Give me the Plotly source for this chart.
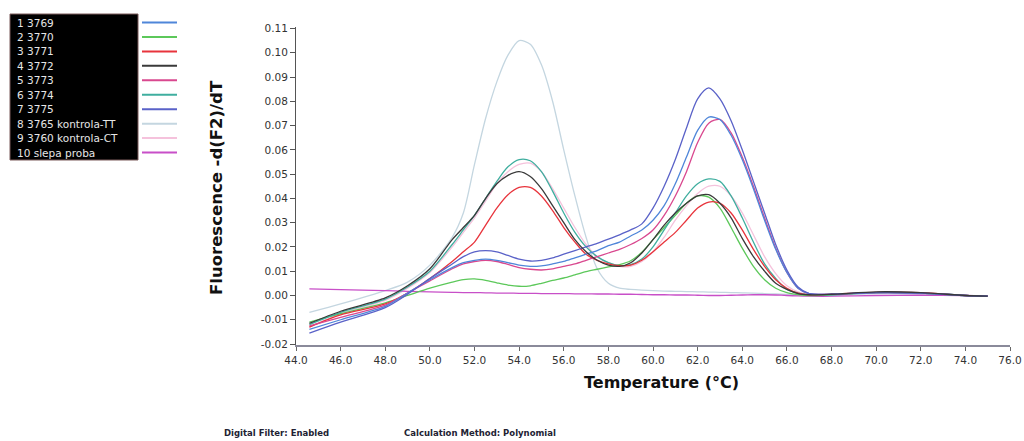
import plotly.graph_objects as go

# ---------------- data ----------------
temperature = [44.6, 46, 48, 49, 50, 51, 51.5, 52, 52.5, 53, 53.5, 54, 54.5, 55, 55.5, 56, 56.5, 57,
               57.5, 58, 58.5, 59, 59.5, 60, 60.5, 61, 61.5, 62, 62.5, 63, 63.5, 64, 64.5, 65, 65.5,
               66, 66.5, 67, 68, 70, 72, 74, 75]

s1_3769 = [-0.014, -0.010, -0.0045, 0.001, 0.0065, 0.0115, 0.0135, 0.0145, 0.015, 0.0145, 0.0135, 0.0125,
           0.012, 0.0122, 0.013, 0.014, 0.0155, 0.017, 0.0185, 0.0205, 0.022, 0.0245, 0.027, 0.031, 0.037,
           0.046, 0.057, 0.068, 0.0735, 0.0725, 0.066, 0.056, 0.044, 0.031, 0.019, 0.0095, 0.003, 0.0008,
           0.0005, 0.0012, 0.001, 0.0, -0.0003]
s2_3770 = [-0.011, -0.0075, -0.003, 0.0, 0.003, 0.0055, 0.0065, 0.0068, 0.0062, 0.0052, 0.0043, 0.0038,
           0.004, 0.005, 0.0062, 0.0072, 0.0085, 0.0098, 0.0108, 0.0118, 0.0127, 0.0143, 0.0178, 0.023,
           0.028, 0.033, 0.038, 0.041, 0.0405, 0.036, 0.028, 0.0195, 0.012, 0.0065, 0.003, 0.0012, 0.0004,
           0.0, 0.0003, 0.0012, 0.001, 0.0, -0.0003]
s3_3771 = [-0.013, -0.008, -0.0035, 0.001, 0.007, 0.014, 0.018, 0.022, 0.029, 0.036, 0.0415, 0.0445,
           0.0445, 0.041, 0.035, 0.028, 0.022, 0.017, 0.0145, 0.013, 0.0123, 0.0125, 0.0145, 0.018, 0.022,
           0.026, 0.031, 0.036, 0.0385, 0.038, 0.034, 0.027, 0.019, 0.012, 0.0065, 0.003, 0.001, 0.0003,
           0.0005, 0.0013, 0.0012, 0.0, -0.0003]
s4_3772 = [-0.0115, -0.0065, -0.001, 0.004, 0.011, 0.023, 0.028, 0.033, 0.040, 0.046, 0.0495, 0.051,
           0.049, 0.044, 0.037, 0.030, 0.023, 0.018, 0.0145, 0.0125, 0.012, 0.0135, 0.0175, 0.023, 0.029,
           0.034, 0.038, 0.041, 0.0415, 0.038, 0.032, 0.0235, 0.016, 0.010, 0.005, 0.0025, 0.0008, 0.0003,
           0.0005, 0.0015, 0.0012, 0.0, -0.0003]
s5_3773 = [-0.0125, -0.009, -0.004, 0.001, 0.006, 0.011, 0.013, 0.014, 0.0145, 0.014, 0.0128, 0.0115,
           0.0108, 0.0105, 0.011, 0.012, 0.013, 0.0145, 0.016, 0.0175, 0.019, 0.021, 0.0235, 0.027, 0.033,
           0.041, 0.051, 0.063, 0.071, 0.0725, 0.067, 0.057, 0.045, 0.032, 0.0195, 0.0095, 0.003, 0.0008,
           0.0005, 0.0012, 0.001, 0.0, -0.0003]
s6_3774 = [-0.012, -0.007, -0.0015, 0.0035, 0.010, 0.021, 0.027, 0.033, 0.040, 0.047, 0.053, 0.056,
           0.0555, 0.051, 0.043, 0.034, 0.026, 0.020, 0.016, 0.0135, 0.0123, 0.0127, 0.015, 0.020, 0.027,
           0.034, 0.041, 0.046, 0.048, 0.047, 0.041, 0.032, 0.022, 0.013, 0.007, 0.0025, 0.001, 0.0003,
           0.0003, 0.0012, 0.001, 0.0, -0.0003]
s7_3775 = [-0.0155, -0.011, -0.005, 0.0005, 0.007, 0.013, 0.016, 0.018, 0.0185, 0.018, 0.0165, 0.015,
           0.0142, 0.0145, 0.0155, 0.017, 0.0185, 0.020, 0.0215, 0.0232, 0.025, 0.027, 0.0295, 0.036, 0.045,
           0.056, 0.069, 0.081, 0.0855, 0.081, 0.072, 0.060, 0.047, 0.034, 0.021, 0.0105, 0.0035, 0.0008,
           0.0005, 0.0012, 0.001, 0.0, -0.0003]
s8_kontrola_tt = [-0.007, -0.0035, 0.002, 0.0055, 0.0125, 0.024, 0.034, 0.054, 0.073, 0.088, 0.099, 0.105,
                  0.1035, 0.095, 0.080, 0.060, 0.041, 0.024, 0.011, 0.005, 0.003, 0.0025, 0.0022, 0.002,
                  0.0018, 0.0017, 0.0016, 0.0015, 0.0014, 0.0013, 0.0012, 0.0011, 0.001, 0.0008, 0.0006,
                  0.0004, 0.0002, 0.0001, 0.0, 0.0008, 0.0005, 0.0, -0.0002]
s9_kontrola_ct = [-0.013, -0.0075, -0.002, 0.003, 0.0095, 0.020, 0.026, 0.032, 0.039, 0.046, 0.051, 0.054,
                  0.0545, 0.051, 0.044, 0.036, 0.028, 0.021, 0.016, 0.0135, 0.012, 0.012, 0.014, 0.018,
                  0.024, 0.031, 0.037, 0.042, 0.045, 0.045, 0.041, 0.034, 0.025, 0.016, 0.009, 0.004, 0.0015,
                  0.0005, 0.0003, 0.0012, 0.001, 0.0, -0.0003]
s10_slepa = [0.0027, 0.0024, 0.002, 0.0017, 0.0015, 0.0013, 0.0012, 0.0012, 0.0011, 0.001, 0.001, 0.0009,
             0.0009, 0.0008, 0.0008, 0.0008, 0.0007, 0.0007, 0.0006, 0.0006, 0.0005, 0.0005, 0.0004, 0.0003,
             0.0003, 0.0002, 0.0002, 0.0001, 0.0, 0.0, 0.0001, 0.0002, 0.0003, 0.0003, 0.0002, 0.0,
             -0.0002, -0.0003, -0.0003, 0.0, 0.0001, 0.0, -0.0002]

series_names = ["1 3769", "2 3770", "3 3771", "4 3772", "5 3773", "6 3774", "7 3775",
                "8 3765 kontrola-TT", "9 3760 kontrola-CT", "10 slepa proba"]
series_values = [s1_3769, s2_3770, s3_3771, s4_3772, s5_3773, s6_3774, s7_3775,
                 s8_kontrola_tt, s9_kontrola_ct, s10_slepa]
series_colors = ["#4f86d9", "#5cc85a", "#e8343c", "#3a3a3a", "#d9488f", "#3fae9f", "#5a62c8",
                 "#c4d6e0", "#f5c2dc", "#c84fc8"]

y_tickvals = [-0.02, -0.01, 0.0, 0.01, 0.02, 0.03, 0.04, 0.05, 0.06, 0.07, 0.08, 0.09, 0.10, 0.11]
y_ticktext = ["-0.02", "-0.01", "0.00", "0.01", "0.02", "0.03", "0.04", "0.05", "0.06", "0.07",
              "0.08", "0.09", "0.10", "0.11"]
x_tickvals = [44, 46, 48, 50, 52, 54, 56, 58, 60, 62, 64, 66, 68, 70, 72, 74, 76]
x_ticktext = ["44.0", "46.0", "48.0", "50.0", "52.0", "54.0", "56.0", "58.0", "60.0", "62.0",
              "64.0", "66.0", "68.0", "70.0", "72.0", "74.0", "76.0"]

# ---------------- layout geometry ----------------
W, H = 1024, 441
ML, MR, MT, MB = 296, 14, 27, 96
PW, PH = W - ML - MR, H - MT - MB


def px(x):
    return (x - ML) / PW


def py(y):
    return (H - MB - y) / PH


fig = go.Figure()
draw_order = [7, 8, 9, 1, 5, 2, 4, 0, 6, 3]
for i in draw_order:
    fig.add_trace(go.Scatter(
        x=temperature, y=series_values[i], mode="lines", name=series_names[i],
        line=dict(color=series_colors[i], width=1.3, shape="spline", smoothing=0.8),
        showlegend=False))

tick_font = dict(family="DejaVu Sans", size=10.5, color="#333333")
fig.update_xaxes(range=[44, 76], tickvals=x_tickvals, ticktext=x_ticktext, showgrid=False,
                 zeroline=False, showline=True, linecolor="#8a8a9a", linewidth=2,
                 ticks="outside", ticklen=4, tickcolor="#666666", tickfont=tick_font,
                 ticklabeloverflow="allow")
fig.update_yaxes(range=[-0.0204, 0.1106], tickvals=y_tickvals, ticktext=y_ticktext, showgrid=False,
                 zeroline=False, showline=True, linecolor="#555555", linewidth=1,
                 ticks="outside", ticklen=5, tickcolor="#555555", tickfont=tick_font)

shapes = []
annotations = []
# legend box (labels on black, line samples to the right)
shapes.append(dict(type="rect", xref="paper", yref="paper", x0=px(10), x1=px(138), y0=py(160), y1=py(14),
                   fillcolor="black", line=dict(color="#7a5a5a", width=1), layer="above"))
for k, name in enumerate(series_names):
    yc = 22.5 + k * 14.45
    annotations.append(dict(xref="paper", yref="paper", x=px(15), y=py(yc), xanchor="left",
                            yanchor="middle", text=name, showarrow=False,
                            font=dict(family="DejaVu Sans", size=10.5, color="#e6e6e6")))
    shapes.append(dict(type="line", xref="paper", yref="paper", x0=px(142), x1=px(177),
                       y0=py(yc), y1=py(yc), line=dict(color=series_colors[k], width=2)))

# axis titles
annotations.append(dict(xref="paper", yref="paper", x=px(216), y=py(188), textangle=-90,
                        text="Fluorescence -d(F2)/dT", showarrow=False, xanchor="center",
                        yanchor="middle",
                        font=dict(family="DejaVu Sans", size=16.5, color="#111111", weight="bold")))
annotations.append(dict(xref="paper", yref="paper", x=px(661), y=py(382),
                        text="Temperature (°C)", showarrow=False, xanchor="center", yanchor="middle",
                        font=dict(family="DejaVu Sans", size=16, color="#111111", weight="bold")))
# footer notes
annotations.append(dict(xref="paper", yref="paper", x=px(222), y=py(433), text="Digital Filter: Enabled",
                        showarrow=False, xanchor="left", yanchor="middle",
                        font=dict(family="DejaVu Sans", size=8.5, color="#222233", weight="bold")))
annotations.append(dict(xref="paper", yref="paper", x=px(402), y=py(433),
                        text="Calculation Method: Polynomial",
                        showarrow=False, xanchor="left", yanchor="middle",
                        font=dict(family="DejaVu Sans", size=8.5, color="#222233", weight="bold")))

fig.update_layout(width=W, height=H, margin=dict(l=ML, r=MR, t=MT, b=MB, autoexpand=False),
                  paper_bgcolor="white", plot_bgcolor="white", showlegend=False,
                  shapes=shapes, annotations=annotations)

fig.write_html("out.html", config={"displayModeBar": False},
               post_script="document.body.style.margin='0px';document.body.style.overflow='hidden';")
